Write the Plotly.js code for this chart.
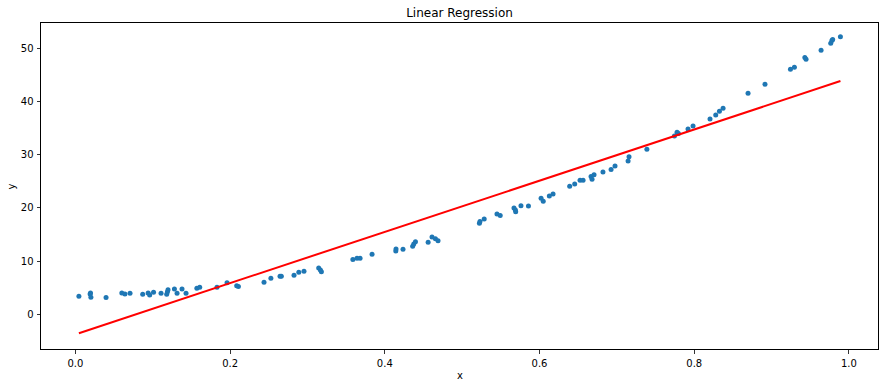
<!DOCTYPE html>
<html>
<head>
<meta charset="utf-8">
<script src="https://cdn.plot.ly/plotly-3.0.1.min.js"></script>
<style>html,body{margin:0;padding:0;background:#fff;}#chart{width:885px;height:387px;}</style>
</head>
<body>
<div id="chart"></div>
<script>
// Scatter data
const xData = [0.0045,0.019,0.0195,0.020,0.0396,0.060,0.064,0.0706,0.087,0.094,
  0.096,0.101,0.1107,0.118,0.119,0.1197,0.128,0.1314,0.1378,0.143,
  0.157,0.1607,0.183,0.196,0.2085,0.2107,0.2438,0.2527,0.2645,0.2662,
  0.2826,0.2888,0.2955,0.3145,0.3167,0.318,0.3587,0.364,0.368,0.3835,
  0.4142,0.4145,0.4235,0.436,0.4374,0.4396,0.456,0.461,0.4654,0.4688,
  0.5223,0.523,0.5285,0.545,0.5492,0.567,0.5688,0.5692,0.576,0.5857,
  0.602,0.6048,0.6127,0.6175,0.639,0.6455,0.6524,0.6563,0.6666,0.6705,
  0.6679,0.682,0.6925,0.6976,0.7145,0.7157,0.7388,0.7744,0.7778,0.7796,
  0.792,0.7985,0.8204,0.8278,0.8326,0.8373,0.8696,0.8915,0.9244,0.9295,
  0.943,0.9446,0.964,0.9765,0.978,0.979,0.989];
const yData = [3.38,3.8,4.0,3.2,3.15,4.0,3.8,3.95,3.76,4.0,
  3.6,4.15,3.95,3.76,4.25,4.6,4.73,3.95,4.73,3.95,
  4.89,5.07,5.07,5.9,5.35,5.2,6.0,6.77,7.14,7.14,
  7.33,7.9,8.08,8.68,8.33,8.0,10.3,10.5,10.5,11.25,
  11.87,12.27,12.2,12.78,13.18,13.6,13.53,14.5,14.2,13.82,
  17.1,17.4,17.88,18.85,18.57,19.95,19.6,19.25,20.38,20.35,
  21.8,21.24,22.22,22.6,24.02,24.47,25.19,25.19,25.87,26.18,
  25.37,26.7,27.2,27.85,28.78,29.57,31.0,33.5,34.2,33.95,
  34.8,35.35,36.65,37.4,38.15,38.7,41.5,43.2,46.0,46.4,
  48.2,47.9,49.6,50.9,51.4,51.6,52.1];
// Fitted line endpoints
const lineX = [0.0045, 0.989];
const lineY = [-3.55, 43.8];
const xTicks = [0.0, 0.2, 0.4, 0.6, 0.8, 1.0];
const xTickText = ["0.0", "0.2", "0.4", "0.6", "0.8", "1.0"];
const yTicks = [0, 10, 20, 30, 40, 50];
const yTickText = ["0", "10", "20", "30", "40", "50"];

const font = {family: "DejaVu Sans, sans-serif", size: 10, color: "#000"};

const traces = [
  {x: xData, y: yData, type: "scatter", mode: "markers",
   marker: {color: "#1f77b4", size: 5, line: {width: 0}}, hoverinfo: "x+y"},
  {x: lineX, y: lineY, type: "scatter", mode: "lines",
   line: {color: "#ff0000", width: 2}}
];

const axisCommon = {
  showgrid: false, zeroline: false, showline: true, mirror: true,
  linecolor: "#000", linewidth: 1, ticks: "outside", ticklen: 3.5,
  tickwidth: 0.8, tickcolor: "#000", tickfont: font, automargin: false,
  ticklabelstandoff: 1
};

const layout = {
  width: 885, height: 387,
  margin: {l: 41, r: 7, t: 23, b: 38, pad: 0},
  paper_bgcolor: "#fff", plot_bgcolor: "#fff",
  showlegend: false,
  font: font,
  title: {text: "Linear Regression", font: {family: "DejaVu Sans, sans-serif", size: 12, color: "#000"},
          x: 0.5, xref: "paper", y: 1 - 13/387, yref: "container", xanchor: "center", yanchor: "middle"},
  xaxis: Object.assign({}, axisCommon, {range: [-0.0445, 1.0376], tickvals: xTicks, ticktext: xTickText}),
  yaxis: Object.assign({}, axisCommon, {range: [-6.52, 54.7], tickvals: yTicks, ticktext: yTickText}),
  annotations: [
    {text: "x", xref: "paper", yref: "paper", x: 0.5, y: -(375 - 349) / 326,
     xanchor: "center", yanchor: "middle", showarrow: false, font: font},
    {text: "y", xref: "paper", yref: "paper", x: -(41.3 - 11.7) / 837, y: (349 - 186) / 326,
     xanchor: "center", yanchor: "middle", showarrow: false, font: font, textangle: -90}
  ]
};

Plotly.newPlot("chart", traces, layout, {displayModeBar: false, staticPlot: true});
</script>
</body>
</html>
